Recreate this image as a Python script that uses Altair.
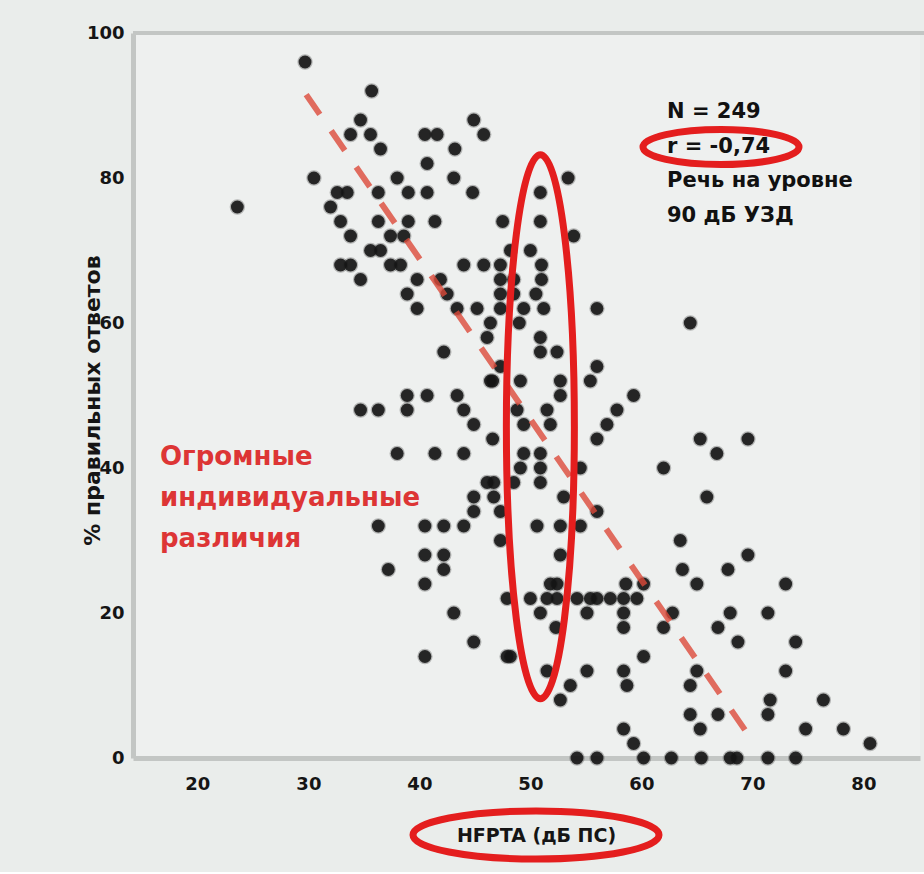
import altair as alt
import pandas as pd

# HFPTA (dB HL) and % correct responses for each listener
hfpta = [
    23.6, 29.7, 30.5, 35.7, 34.7, 33.8, 35.6, 36.5, 40.5, 41.6,
    44.9, 45.8, 43.2, 40.7, 38.0, 43.1, 44.8, 32.6, 33.5, 32.0,
    36.3, 39.0, 40.7, 32.9, 33.8, 36.3, 39.0, 41.4, 47.5, 37.4,
    38.6, 35.6, 36.5, 32.9, 33.8, 34.7, 37.4, 38.3, 44.0, 45.8,
    39.8, 41.9, 38.9, 39.8, 42.5, 43.4, 45.2, 46.4, 47.3, 47.3,
    47.3, 46.1, 42.2, 46.6, 47.3, 34.7, 36.3, 38.9, 38.9, 40.7,
    43.4, 44.0, 44.9, 46.6, 38.0, 41.4, 44.0, 46.1, 46.7, 44.9,
    44.9, 47.3, 36.3, 40.5, 42.2, 44.0, 47.3, 40.5, 42.2, 42.2,
    37.2, 40.5, 47.9, 43.1, 44.9, 40.5, 47.9,
    53.4, 50.9, 50.9, 53.9, 48.2, 50.0, 51.0, 51.0, 50.5, 49.4,
    51.2, 47.3, 48.5, 48.5, 49.0, 56.0, 64.4, 50.9, 52.4, 50.9,
    49.1, 52.7, 56.0, 55.4, 59.3, 57.8, 52.7, 51.5, 48.8, 46.4,
    56.9, 56.0, 49.4, 51.8, 65.3, 49.4, 50.9, 49.1, 50.9, 54.5,
    62.0, 46.7, 48.5, 50.9, 53.0, 65.9, 56.0, 50.6, 52.7, 54.5,
    52.7, 63.5, 63.7, 65.0,
    50.0, 51.5, 52.4, 54.2, 55.4, 56.0, 57.2, 58.4, 59.6, 60.2,
    51.8, 52.4, 58.6,
    50.9, 55.1, 58.4, 58.4, 62.8, 62.0, 52.3, 48.2, 51.5, 55.1,
    53.6, 52.7, 58.4, 60.2, 58.7, 64.4, 65.0, 64.4, 65.3, 58.4,
    59.3, 60.2,
    54.2, 56.0, 62.7, 65.4, 68.0, 68.6, 71.4, 73.9,
    69.6, 67.8, 73.0, 68.0, 66.9, 71.4, 68.7, 73.9, 73.0, 71.6,
    76.4, 71.4, 66.9, 74.8, 78.2, 80.6,
    69.6, 66.8,
]
score = [
    76, 96, 80, 92, 88, 86, 86, 84, 86, 86,
    88, 86, 84, 82, 80, 80, 78, 78, 78, 76,
    78, 78, 78, 74, 72, 74, 74, 74, 74, 72,
    72, 70, 70, 68, 68, 66, 68, 68, 68, 68,
    66, 66, 64, 62, 64, 62, 62, 60, 66, 64,
    62, 58, 56, 52, 54, 48, 48, 50, 48, 50,
    50, 48, 46, 44, 42, 42, 42, 38, 36, 36,
    34, 34, 32, 32, 32, 32, 30, 28, 28, 26,
    26, 24, 22, 20, 16, 14, 14,
    80, 78, 74, 72, 70, 70, 68, 66, 64, 62,
    62, 68, 66, 64, 60, 62, 60, 58, 56, 56,
    52, 52, 54, 52, 50, 48, 50, 48, 48, 52,
    46, 44, 46, 46, 44, 42, 42, 40, 40, 40,
    40, 38, 38, 38, 36, 36, 34, 32, 32, 32,
    28, 30, 26, 24,
    22, 22, 22, 22, 22, 22, 22, 22, 22, 24,
    24, 24, 24,
    20, 20, 20, 18, 20, 18, 18, 14, 12, 12,
    10, 8, 12, 14, 10, 10, 12, 6, 4, 4,
    2, 0,
    0, 0, 0, 0, 0, 0, 0, 0,
    28, 26, 24, 20, 18, 20, 16, 16, 12, 8,
    8, 6, 6, 4, 4, 2,
    44, 42,
]

# Least-squares trend line end points
fit_hfpta = [29.8, 69.5]
fit_score = [91.5, 3.5]

x_ticks = [20, 30, 40, 50, 60, 70, 80]
y_ticks = [0, 20, 40, 60, 80, 100]

stats_lines = ["N = 249", "r = -0,74", "Речь на уровне", "90 дБ УЗД"]
callout_lines = ["Огромные", "индивидуальные", "различия"]

points = pd.DataFrame({"hfpta": hfpta, "score": score})
fit = pd.DataFrame({"hfpta": fit_hfpta, "score": fit_score})

FONT = "DejaVu Sans"
RED = "#e41e1e"

x_scale = alt.Scale(domain=[14.2, 85.1], nice=False, zero=False)
y_scale = alt.Scale(domain=[0, 100], nice=False, zero=True)

x_axis = alt.Axis(
    values=x_ticks, grid=False, ticks=False, domain=True,
    domainColor="#c3c6c4", domainWidth=5,
    labelFont=FONT, labelFontWeight="bold", labelFontSize=18,
    labelColor="#151515", labelPadding=17,
    title="HFPTA (дБ ПС)", titleFont=FONT, titleFontWeight="bold",
    titleFontSize=19, titleColor="#151515",
    titleX=403, titleY=77, titleAlign="center", titleBaseline="middle",
)
y_axis = alt.Axis(
    values=y_ticks, grid=False, ticks=False, domain=True,
    domainColor="#c3c6c4", domainWidth=5,
    labelFont=FONT, labelFontWeight="bold", labelFontSize=18,
    labelColor="#151515", labelPadding=9,
    title="% правильных ответов", titleFont=FONT, titleFontWeight="bold",
    titleFontSize=22, titleColor="#151515",
    titleX=-41, titleY=367, titleAngle=270,
    titleAlign="center", titleBaseline="middle",
)

dots = alt.Chart(points).mark_point(
    filled=True, size=165, color="#141414", opacity=0.92,
    stroke="#222222", strokeWidth=2.5, strokeOpacity=0.3,
).encode(
    x=alt.X("hfpta:Q", scale=x_scale, axis=x_axis),
    y=alt.Y("score:Q", scale=y_scale, axis=y_axis),
)

trend = alt.Chart(fit).mark_line(
    color="#dc4a3a", strokeWidth=6, strokeDash=[24, 20], opacity=0.8,
).encode(x="hfpta:Q", y="score:Q")

one_row = alt.Data(values=[{}])

# top border of the plot frame
frame_top = alt.Chart(one_row).mark_rule(color="#c3c6c4", strokeWidth=4).encode(
    x=alt.value(0), x2=alt.value(791), y=alt.value(0)
)

stats = alt.Chart(one_row).mark_text(
    text=stats_lines, font=FONT, fontWeight="bold", fontSize=21,
    color="#111111", align="left", baseline="alphabetic", lineHeight=34.7,
).encode(x=alt.value(534), y=alt.value(85))

callout = alt.Chart(one_row).mark_text(
    text=callout_lines, font=FONT, fontWeight="bold", fontSize=26,
    color="#dd3535", align="left", baseline="alphabetic", lineHeight=41,
).encode(x=alt.value(27), y=alt.value(432))


def ellipse_path(ry):
    """Closed ellipse outline with x-radius 1 and y-radius ry (cubic Beziers)."""
    k = 0.5523
    r = lambda v: f"{v:.4f}"
    return (
        f"M0,{r(-ry)} C{r(k)},{r(-ry)} 1,{r(-k * ry)} 1,0 "
        f"C1,{r(k * ry)} {r(k)},{r(ry)} 0,{r(ry)} "
        f"C{r(-k)},{r(ry)} -1,{r(k * ry)} -1,0 "
        f"C-1,{r(-k * ry)} {r(-k)},{r(-ry)} 0,{r(-ry)} Z"
    )


def ring(path, size):
    return alt.Chart(one_row).mark_point(
        shape=path, size=size, filled=False, stroke=RED, strokeWidth=7, opacity=1,
    )


ring_column = ring(ellipse_path(8.0), 4624).encode(
    x=alt.datum(50.9), y=alt.datum(45.7)
)
ring_r = ring(ellipse_path(0.224), 24336).encode(x=alt.value(588), y=alt.value(114))
ring_title = ring(ellipse_path(0.195), 60516).encode(x=alt.value(403), y=alt.value(802))

chart = alt.layer(
    dots, trend, frame_top, stats, callout, ring_column, ring_r, ring_title
).properties(
    width=787, height=725,
    autosize=alt.AutoSizeParams(type="none"),
    padding={"left": 133, "top": 33, "right": 4, "bottom": 114},
    background="#eaedeb",
).configure_view(
    fill="#eef0ef", stroke=None
)

chart.save("out.html", embed_options={"renderer": "svg", "actions": False})
